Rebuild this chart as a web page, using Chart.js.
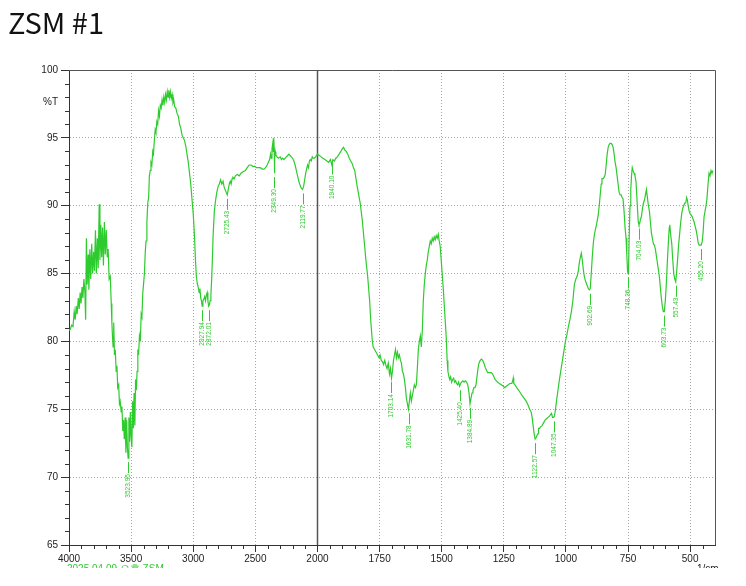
<!DOCTYPE html>
<html>
<head>
<meta charset="utf-8">
<script src="https://cdn.jsdelivr.net/npm/chart.js@4.4.1/dist/chart.umd.min.js"></script>
<style>
  html, body { margin: 0; padding: 0; background: #fff; }
  #wrap { position: relative; width: 746px; height: 586px; overflow: hidden; }
  #title {
    position: absolute; left: 8px; top: 7px;
    font: 29px "Noto Sans CJK KR", "Noto Sans", sans-serif;
    line-height: 1; color: #111;
  }
  canvas { position: absolute; left: 0; top: 0; }
</style>
</head>
<body>
<div id="wrap">
  <canvas id="ir" width="746" height="568"></canvas>
  <div id="title">ZSM #1</div>
</div>
<script>
// FTIR spectrum, wavenumber (1/cm) vs %T.
const WAVENUMBER = [
  4000, 3990, 3978, 3968, 3958, 3950, 3942, 3935, 3925, 3918, 3910, 3903, 3895, 3888, 3880, 3872,
  3866, 3860, 3854, 3846, 3840, 3832, 3825, 3817, 3810, 3802, 3795, 3787, 3780, 3772, 3765, 3757,
  3751, 3744, 3737, 3730, 3723, 3715, 3708, 3700, 3692, 3685, 3677, 3668, 3660, 3655, 3650, 3645,
  3640, 3634, 3628, 3620, 3614, 3608, 3600, 3594, 3588, 3580, 3574, 3567, 3561, 3555, 3548, 3542,
  3536, 3530, 3524, 3518, 3512, 3506, 3500, 3494, 3488, 3482, 3476, 3470, 3464, 3458, 3452, 3446,
  3440, 3433, 3426, 3419, 3413, 3406, 3400, 3393, 3386, 3380, 3373, 3366, 3359, 3353, 3346, 3340,
  3333, 3326, 3320, 3313, 3306, 3300, 3293, 3286, 3279, 3272, 3265, 3258, 3251, 3244, 3237, 3230,
  3223, 3216, 3209, 3203, 3197, 3190, 3184, 3177, 3170, 3163, 3157, 3150, 3140, 3130, 3120, 3110,
  3100, 3090, 3080, 3070, 3060, 3050, 3040, 3030, 3020, 3010, 3000, 2990, 2982, 2975, 2968, 2960,
  2952, 2946, 2940, 2934, 2928, 2922, 2915, 2908, 2901, 2895, 2888, 2882, 2876, 2870, 2864, 2858,
  2852, 2846, 2840, 2830, 2820, 2810, 2800, 2790, 2780, 2770, 2760, 2752, 2744, 2735, 2726, 2718,
  2710, 2702, 2695, 2687, 2680, 2670, 2660, 2645, 2630, 2615, 2600, 2580, 2565, 2550, 2535, 2520,
  2505, 2490, 2475, 2460, 2445, 2430, 2418, 2405, 2395, 2385, 2378, 2372, 2366, 2360, 2355, 2352,
  2348, 2346, 2344, 2340, 2335, 2325, 2315, 2300, 2290, 2280, 2270, 2260, 2250, 2240, 2230, 2220,
  2210, 2200, 2190, 2180, 2170, 2160, 2150, 2140, 2130, 2120, 2112, 2105, 2098, 2090, 2080, 2072,
  2065, 2058, 2050, 2042, 2035, 2025, 2015, 2008, 2000, 1992, 1985, 1978, 1970, 1962, 1955, 1948,
  1942, 1938, 1932, 1926, 1920, 1913, 1906, 1900, 1895, 1890, 1884, 1878, 1872, 1866, 1860, 1855,
  1850, 1845, 1840, 1834, 1828, 1820, 1812, 1805, 1798, 1790, 1785, 1780, 1776, 1770, 1764, 1758,
  1752, 1748, 1743, 1738, 1734, 1729, 1724, 1720, 1715, 1710, 1706, 1702, 1698, 1694, 1690, 1686,
  1682, 1678, 1674, 1670, 1666, 1662, 1658, 1654, 1650, 1646, 1642, 1638, 1634, 1630, 1626, 1622,
  1618, 1614, 1610, 1606, 1602, 1598, 1594, 1590, 1586, 1582, 1578, 1574, 1570, 1566, 1562, 1558,
  1554, 1550, 1546, 1542, 1538, 1534, 1530, 1526, 1522, 1518, 1514, 1510, 1506, 1502, 1498, 1494,
  1490, 1486, 1482, 1478, 1475, 1472, 1468, 1464, 1460, 1456, 1452, 1448, 1444, 1440, 1436, 1432,
  1428, 1424, 1420, 1415, 1410, 1405, 1400, 1395, 1390, 1386, 1382, 1378, 1374, 1370, 1366, 1362,
  1358, 1354, 1350, 1345, 1340, 1335, 1330, 1325, 1320, 1315, 1310, 1305, 1300, 1295, 1290, 1285,
  1280, 1275, 1268, 1260, 1252, 1246, 1240, 1232, 1226, 1218, 1214, 1212, 1210, 1205, 1198, 1190,
  1183, 1176, 1168, 1160, 1152, 1146, 1140, 1136, 1132, 1128, 1124, 1120, 1116, 1112, 1110, 1106,
  1102, 1096, 1090, 1084, 1078, 1072, 1066, 1062, 1058, 1054, 1050, 1046, 1042, 1038, 1032, 1026,
  1020, 1014, 1008, 1002, 996, 990, 984, 978, 972, 966, 960, 955, 950, 946, 942, 938,
  934, 930, 926, 922, 916, 910, 906, 902, 898, 894, 890, 886, 882, 878, 874, 870,
  866, 862, 858, 855, 850, 846, 842, 838, 834, 830, 826, 822, 818, 814, 810, 806,
  802, 798, 794, 790, 786, 782, 778, 774, 770, 766, 762, 758, 755, 752, 750, 748,
  745, 742, 739, 736, 733, 730, 726, 722, 718, 715, 712, 709, 706, 703, 700, 696,
  692, 688, 684, 680, 676, 672, 668, 664, 660, 656, 652, 648, 644, 640, 636, 632,
  628, 624, 620, 616, 612, 608, 604, 600, 596, 592, 588, 584, 582, 578, 574, 570,
  566, 562, 558, 554, 550, 546, 542, 538, 534, 530, 526, 522, 518, 514, 511, 508,
  504, 500, 496, 492, 488, 484, 480, 476, 472, 468, 464, 460, 456, 452, 448, 444,
  440, 436, 432, 428, 424, 420, 416, 412, 408
];
const TRANSMITTANCE = [
  80.8, 80.9, 81.2, 81.1, 82.2, 81.6, 82.6, 82.0, 83.2, 82.4, 83.6, 82.8, 84.0, 83.2, 84.6, 83.6,
  81.6, 87.6, 84.2, 86.4, 83.8, 86.8, 84.6, 87.2, 85.0, 86.6, 85.2, 88.2, 85.0, 87.6, 85.4, 90.1,
  86.0, 88.6, 86.2, 88.4, 85.6, 88.8, 86.4, 88.2, 86.2, 86.8, 84.6, 84.8, 82.8, 81.4, 80.4, 79.6,
  81.4, 79.0, 79.4, 77.8, 78.2, 76.6, 76.8, 75.4, 75.6, 74.8, 75.2, 73.4, 74.2, 72.8, 74.4, 71.8,
  74.2, 72.2, 71.4, 74.4, 72.6, 74.8, 73.0, 72.2, 75.6, 73.6, 76.2, 73.8, 77.2, 76.4, 77.8, 79.4,
  79.0, 80.4, 80.0, 82.0, 81.8, 83.6, 84.2, 85.0, 86.6, 87.4, 88.8, 90.2, 90.6, 92.2, 92.6, 93.2,
  93.0, 94.0, 93.8, 94.8, 95.6, 95.4, 96.2, 96.0, 97.0, 96.6, 97.4, 97.2, 97.8, 97.4, 98.0, 97.6,
  98.2, 97.8, 98.4, 98.0, 98.5, 98.0, 98.4, 97.9, 98.2, 97.6, 97.8, 97.3, 97.2, 96.8, 96.6, 96.0,
  95.7, 95.2, 95.0, 94.8, 94.4, 93.8, 93.2, 92.4, 91.6, 90.5, 89.4, 87.8, 86.0, 84.8, 84.3, 84.0,
  83.6, 83.9, 83.2, 83.0, 82.6, 83.0, 83.1, 83.3, 83.0, 83.4, 83.6, 83.0, 82.6, 82.7, 83.0, 83.4,
  84.5, 86.0, 87.8, 89.6, 90.4, 91.0, 91.4, 91.6, 91.9, 91.6, 91.8, 91.4, 91.2, 91.0, 90.8, 91.2,
  91.6, 91.8, 91.6, 92.0, 92.1, 92.0, 92.2, 92.3, 92.2, 92.4, 92.5, 92.6, 92.8, 93.0, 93.0, 92.9,
  92.9, 92.8, 92.8, 92.8, 92.7, 92.7, 92.8, 93.0, 93.2, 93.4, 93.8, 93.5, 94.2, 94.6, 94.0, 95.0,
  94.2, 92.4, 93.6, 94.0, 93.7, 93.6, 93.5, 93.6, 93.4, 93.5, 93.4, 93.5, 93.6, 93.7, 93.8, 93.7,
  93.6, 93.5, 93.3, 93.0, 92.6, 92.2, 91.8, 91.5, 91.3, 91.2, 91.4, 91.8, 92.2, 92.6, 93.0, 92.8,
  93.3, 93.4, 93.3, 93.6, 93.5, 93.5, 93.6, 93.7, 93.8, 93.7, 93.6, 93.5, 93.4, 93.3, 93.2, 93.4,
  93.0, 93.4, 93.3, 93.5, 93.6, 93.8, 94.0, 94.2, 94.3, 94.1, 94.0, 93.8, 93.5, 93.3, 93.1, 92.8,
  92.6, 92.0, 91.4, 90.8, 90.2, 89.0, 87.4, 86.0, 84.8, 83.0, 81.4, 80.2, 79.6, 79.4, 79.2, 79.0,
  78.8, 79.0, 78.6, 78.5, 78.3, 78.6, 78.2, 78.0, 78.4, 77.6, 78.0, 77.3, 77.8, 78.6, 79.0, 79.4,
  78.8, 79.2, 78.8, 79.0, 78.6, 78.4, 77.8, 77.6, 77.2, 76.6, 75.8, 75.4, 75.0, 75.6, 76.2, 75.6,
  76.0, 76.4, 76.8, 76.6, 76.8, 78.0, 79.4, 80.0, 80.4, 79.6, 80.8, 83.0, 84.2, 85.0, 85.6, 86.0,
  86.6, 87.0, 87.4, 87.2, 87.6, 87.4, 87.7, 87.5, 87.8, 87.6, 87.9, 87.4, 87.0, 86.0, 85.0, 84.0,
  82.8, 81.6, 80.4, 78.6, 77.8, 77.5, 77.2, 77.4, 77.0, 77.2, 77.3, 77.0, 77.1, 76.9, 76.8, 77.0,
  76.7, 76.9, 77.0, 77.1, 77.0, 77.1, 77.0, 76.8, 76.2, 75.4, 75.8, 76.2, 76.4, 76.6, 76.6, 76.8,
  77.4, 78.0, 78.4, 78.6, 78.7, 78.6, 78.4, 78.1, 77.9, 77.7, 77.7, 77.7, 77.7, 77.6, 77.4, 77.2,
  77.1, 77.0, 76.9, 76.8, 76.7, 76.6, 76.7, 76.8, 76.9, 76.9, 77.1, 77.3, 76.9, 76.8, 76.6, 76.4,
  76.2, 76.0, 75.8, 75.6, 75.3, 75.0, 74.8, 74.4, 73.8, 73.2, 72.8, 72.9, 73.1, 73.2, 73.6, 73.6,
  73.7, 73.8, 74.0, 74.2, 74.3, 74.4, 74.5, 74.6, 74.7, 74.4, 74.4, 74.5, 75.0, 75.6, 76.4, 77.2,
  77.9, 78.6, 79.3, 80.0, 80.5, 81.1, 81.6, 82.2, 83.0, 84.2, 84.6, 84.8, 85.2, 85.8, 86.2, 86.5,
  86.0, 85.3, 84.8, 84.5, 84.2, 83.9, 83.8, 83.9, 85.0, 86.2, 87.2, 87.8, 88.2, 88.5, 88.9, 89.3,
  90.0, 90.8, 91.6, 92.0, 92.0, 92.1, 92.3, 93.0, 93.8, 94.3, 94.5, 94.6, 94.6, 94.5, 94.3, 93.8,
  93.2, 92.8, 92.2, 91.6, 91.0, 90.8, 90.8, 90.6, 90.5, 89.6, 88.4, 87.6, 86.4, 85.2, 85.0, 85.3,
  88.0, 90.0, 91.2, 92.2, 92.8, 92.6, 92.4, 92.2, 91.8, 90.8, 89.8, 88.8, 88.6, 88.7, 89.0, 89.2,
  89.8, 90.2, 90.4, 90.8, 91.2, 90.6, 90.0, 89.6, 88.8, 88.0, 87.6, 87.2, 87.1, 86.8, 86.3, 85.8,
  85.3, 84.8, 84.0, 83.2, 82.6, 82.2, 82.2, 83.0, 84.2, 85.8, 87.2, 88.4, 88.6, 87.8, 87.2, 86.0,
  85.0, 84.6, 84.4, 85.2, 86.2, 87.2, 88.0, 88.8, 89.4, 89.8, 90.0, 90.2, 90.2, 90.6, 90.4, 90.0,
  89.6, 89.4, 89.3, 89.2, 89.0, 88.8, 88.5, 88.2, 87.8, 87.3, 87.1, 87.1, 87.1, 87.3, 88.0, 89.2,
  89.6, 90.0, 90.6, 91.6, 92.4, 92.2, 92.6, 92.4, 92.6
];

// Peak picks printed on the spectrum, and the %T at each dip
const PEAK_WN = ["3523.95", "2927.94", "2872.01", "2725.43", "2349.30", "2119.77", "1940.10",
  "1703.14", "1631.78", "1425.40", "1384.89", "1122.57", "1047.35", "902.69", "748.36",
  "704.03", "603.73", "557.43", "455.20"];
const PEAK_T = [71.4, 82.6, 82.6, 90.8, 92.4, 91.2, 93.4,
  77.3, 75.0, 76.7, 75.4, 72.8, 74.4, 83.8, 85.0,
  88.6, 82.2, 84.4, 87.1];

// Axis ticks: the wavenumber axis doubles its scale below 2000
const X_TICKS = [4000, 3500, 3000, 2500, 2000, 1750, 1500, 1250, 1000, 750, 500];
const Y_TICKS = [65, 70, 75, 80, 85, 90, 95, 100];

const GREEN = "#2ecb2e";
const INK = "#333";

// Piecewise wavenumber scale: 4000-2000 at half the pixels per unit of 2000-400
class IrScale extends Chart.LinearScale {
  static id = "ir";
  static defaults = Chart.LinearScale.defaults;
  toUnits(v) { return v >= 2000 ? (4000 - v) / 2 : 1000 + (2000 - v); }
  fromUnits(u) { return u <= 1000 ? 4000 - 2 * u : 2000 - (u - 1000); }
  buildTicks() { return X_TICKS.map(v => ({ value: v })); }
  getPixelForValue(v) {
    if (v === null || v === undefined) return NaN;
    const span = this.toUnits(this.min);
    return this.left + this.width * this.toUnits(v) / span;
  }
  getValueForPixel(p) {
    const span = this.toUnits(this.min);
    return this.fromUnits((p - this.left) / this.width * span);
  }
}
Chart.register(IrScale);

Chart.defaults.font.family = "'Liberation Sans', Arial, sans-serif";
Chart.defaults.font.size = 10;
Chart.defaults.color = "#222";

const extras = {
  id: "extras",
  beforeDatasetsDraw(chart) {
    const { ctx, chartArea: a, scales: { x } } = chart;
    const bx = Math.round(x.getPixelForValue(2000)) + 0.5;
    ctx.save();
    ctx.strokeStyle = "#555";
    ctx.lineWidth = 1.5;
    ctx.beginPath();
    ctx.moveTo(bx, a.top);
    ctx.lineTo(bx, a.bottom);
    ctx.stroke();
    ctx.restore();
  },
  afterDraw(chart) {
    const { ctx, chartArea: a, scales: { x, y } } = chart;
    ctx.save();
    // frame top and right
    ctx.strokeStyle = "#555";
    ctx.lineWidth = 1;
    ctx.beginPath();
    ctx.moveTo(a.left, a.top + 0.5);
    ctx.lineTo(a.right + 0.5, a.top + 0.5);
    ctx.lineTo(a.right + 0.5, a.bottom);
    ctx.stroke();

    // minor ticks
    ctx.strokeStyle = INK;
    ctx.beginPath();
    for (let v = 66; v < 100; v++) {
      if (v % 5 === 0) continue;
      const py = Math.round(y.getPixelForValue(v)) + 0.5;
      ctx.moveTo(a.left - 4, py);
      ctx.lineTo(a.left, py);
    }
    for (let v = 3900; v > 2000; v -= 100) {
      if (v % 500 === 0) continue;
      const px = Math.round(x.getPixelForValue(v)) + 0.5;
      ctx.moveTo(px, a.bottom);
      ctx.lineTo(px, a.bottom + 4);
    }
    for (let v = 1950; v > 400; v -= 50) {
      if (v % 250 === 0) continue;
      const px = Math.round(x.getPixelForValue(v)) + 0.5;
      ctx.moveTo(px, a.bottom);
      ctx.lineTo(px, a.bottom + 4);
    }
    ctx.stroke();

    // peak picks
    ctx.strokeStyle = GREEN;
    ctx.fillStyle = GREEN;
    ctx.lineWidth = 1;
    ctx.font = "6.5px 'Liberation Sans', Arial, sans-serif";
    PEAK_WN.forEach((label, i) => {
      const px = Math.round(x.getPixelForValue(parseFloat(label))) + 0.5;
      const py = y.getPixelForValue(PEAK_T[i]);
      ctx.beginPath();
      ctx.moveTo(px, py + 4);
      ctx.lineTo(px, py + 15);
      ctx.stroke();
      ctx.save();
      ctx.translate(px, py + 16);
      ctx.rotate(-Math.PI / 2);
      ctx.textAlign = "right";
      ctx.textBaseline = "middle";
      ctx.fillText(label, 0, 0);
      ctx.restore();
    });

    // axis captions
    ctx.fillStyle = "#222";
    ctx.font = "10px 'Liberation Sans', Arial, sans-serif";
    ctx.textAlign = "left";
    ctx.textBaseline = "middle";
    ctx.fillText("%T", 43, y.getPixelForValue(97.6));
    ctx.textBaseline = "top";
    ctx.fillText("1/cm", 697, 564);
    ctx.fillStyle = GREEN;
    ctx.fillText("2025.04.09 오후 ZSM", 67, 564);
    ctx.restore();
  },
};

new Chart(document.getElementById("ir"), {
  type: "line",
  data: {
    datasets: [{
      data: WAVENUMBER.map((w, i) => ({ x: w, y: TRANSMITTANCE[i] })),
      borderColor: GREEN,
      borderWidth: 1.2,
      pointRadius: 0,
      tension: 0,
      fill: false,
    }],
  },
  plugins: [extras],
  options: {
    responsive: false,
    animation: false,
    events: [],
    layout: { padding: { top: 70, right: 31, bottom: 0, left: 0 } },
    plugins: { legend: { display: false }, tooltip: { enabled: false } },
    scales: {
      x: {
        type: "ir",
        min: 400,
        max: 4000,
        afterFit: s => { s.height = 23; },
        ticks: { autoSkip: false, maxRotation: 0, padding: 1, callback: v => String(v) },
        grid: {
          color: c => (c.tick && (c.tick.value === 2000 || c.tick.value === 4000)) ? "rgba(0,0,0,0)" : "#a8a8a8",
          tickColor: INK,
          tickLength: 7,
          tickBorderDash: [],
        },
        border: { display: true, color: INK, width: 1, dash: [1, 2] },
      },
      y: {
        type: "linear",
        min: 65,
        max: 100,
        afterFit: s => { s.width = 69; },
        afterBuildTicks: s => { s.ticks = Y_TICKS.map(v => ({ value: v })); },
        ticks: { padding: 3, callback: v => String(v) },
        grid: {
          color: c => (c.tick && (c.tick.value === 65 || c.tick.value === 100)) ? "rgba(0,0,0,0)" : "#a8a8a8",
          tickColor: INK,
          tickLength: 8,
          tickBorderDash: [],
        },
        border: { display: true, color: INK, width: 1, dash: [1, 2] },
      },
    },
  },
});
</script>
</body>
</html>
